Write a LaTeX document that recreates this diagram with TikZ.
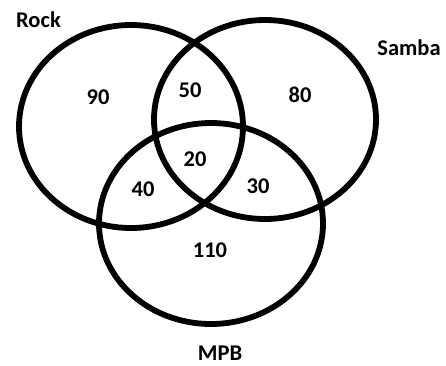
\documentclass[tikz,border=0pt]{standalone}
\usepackage{fontspec}
\setmainfont{Carlito}
\usetikzlibrary{shapes.geometric}
\begin{document}
\begin{tikzpicture}[x=1pt,y=-1pt,
  setring/.style={draw=black, line width=5.8pt, ellipse, inner sep=0pt},
  lbl/.style={font=\fontsize{22.5}{24}\selectfont\bfseries, inner sep=0pt, text=black}]
\useasboundingbox (0,0) rectangle (446,365);
\node[setring, minimum width=224pt, minimum height=203pt] (rock) at (131,126.5) {};
\node[setring, minimum width=222pt, minimum height=199pt] (samba) at (265,119.5) {};
\node[setring, minimum width=224pt, minimum height=201pt] (mpb) at (211,223.5) {};
\node[lbl] (trock) at (38.5,19.5) {Rock};
\node[lbl] (tsamba) at (409,48) {Samba};
\node[lbl] (tmpb) at (220,353.5) {MPB};
\node[lbl] (n90) at (98,97) {90};
\node[lbl] (n50) at (190,90) {50};
\node[lbl] (n80) at (300,95) {80};
\node[lbl] (n20) at (195,159) {20};
\node[lbl] (n40) at (143,189) {40};
\node[lbl] (n30) at (258,186) {30};
\node[lbl] (n110) at (210,250) {110};
\end{tikzpicture}
\end{document}
